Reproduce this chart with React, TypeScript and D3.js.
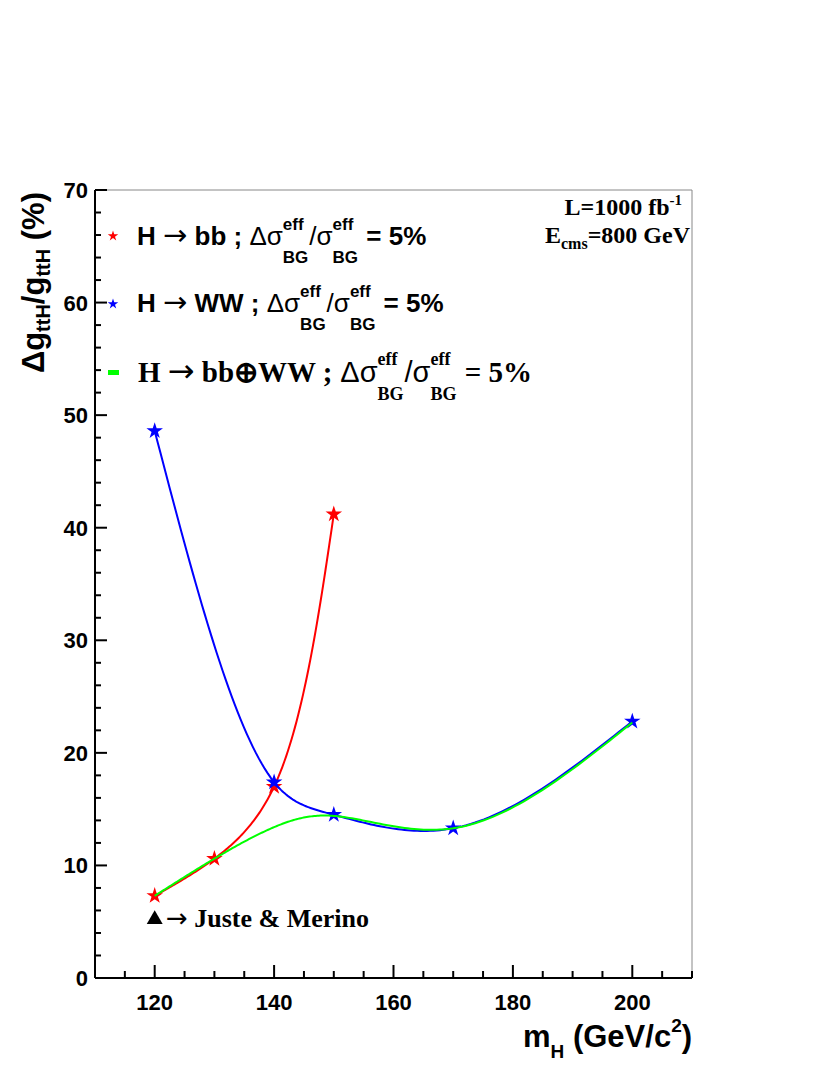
import React from 'react';
import * as d3 from 'd3';

// H -> bb, dsigma/sigma = 5%
const massBB = [120, 130, 140, 150];
const couplingBB = [7.3, 10.6, 17.0, 41.2];
// H -> WW
const massWW = [120, 140, 150, 170, 200];
const couplingWW = [48.6, 17.4, 14.5, 13.3, 22.8];
// combined bb (+) WW
const massComb = [120, 130, 140, 150, 170, 200];
const couplingComb = [7.3, 10.6, 13.4, 14.4, 13.3, 22.7];
// Juste & Merino reference point
const massJuste = [120];
const couplingJuste = [5.3];

const yTicks = [0, 10, 20, 30, 40, 50, 60, 70];
const xTicks = [120, 140, 160, 180, 200];

const SANS = '"Liberation Sans", Arial, Helvetica, sans-serif';
const SERIF = '"Liberation Serif", "Times New Roman", serif';
const SYM = '"DejaVu Sans", sans-serif';

let ctx: CanvasRenderingContext2D | null = null;
const measure = (text: string, size: number, family: string, weight: string) => {
  if (!ctx) ctx = document.createElement('canvas').getContext('2d');
  if (!ctx) return text.length * size * 0.55;
  ctx.font = `${weight} ${size}px ${family}`;
  return ctx.measureText(text).width;
};

type Piece = { t?: string; sup?: string; sub?: string; size: number; dy?: number; up?: number; down?: number; family?: string; weight?: string };

// lays out a run of text with sub/superscripts
function layout(pieces: Piece[], family: string) {
  const out: { t: string; x: number; dy: number; size: number; family: string; weight: string }[] = [];
  let x = 0;
  pieces.forEach(p => {
    const fam = p.family || family;
    const w = p.weight || 'bold';
    if (p.sup !== undefined && p.sub !== undefined) {
      out.push({ t: p.sup, x, dy: -(p.up || 0), size: p.size, family: fam, weight: w });
      out.push({ t: p.sub, x, dy: p.down || 0, size: p.size, family: fam, weight: w });
      x += Math.max(measure(p.sup, p.size, fam, w), measure(p.sub, p.size, fam, w)) + 1;
    } else {
      const t = p.t || '';
      out.push({ t, x, dy: p.dy || 0, size: p.size, family: fam, weight: w });
      x += measure(t, p.size, fam, w);
    }
  });
  return { bits: out, width: x };
}

const RichText = ({ pieces, x, y, family, anchor = 'start', rotate = false }:
  { pieces: Piece[]; x: number; y: number; family: string; anchor?: string; rotate?: boolean }) => {
  const { bits, width } = layout(pieces, family);
  const x0 = anchor === 'end' ? -width : 0;
  const tr = rotate ? `translate(${x},${y}) rotate(-90)` : `translate(${x},${y})`;
  return (
    <g transform={tr}>
      {bits.map((b, i) => (
        <text key={i} x={x0 + b.x} y={b.dy} fontFamily={b.family} fontWeight={b.weight} fontSize={b.size} fill="#000"
          style={{ whiteSpace: 'pre' }}>{b.t}</text>
      ))}
    </g>
  );
};

// parametric natural cubic spline (centripetal knots) for the smoothed graphs
function smooth(pts: [number, number][], steps = 40): [number, number][] {
  const n = pts.length;
  if (n < 3) return pts;
  const t = [0];
  for (let i = 1; i < n; i++) {
    t.push(t[i - 1] + Math.sqrt(Math.hypot(pts[i][0] - pts[i - 1][0], pts[i][1] - pts[i - 1][1])));
  }
  const second = (v: number[]) => {
    const M = new Array(n).fill(0);
    const a: number[] = [], b: number[] = [], c: number[] = [], r: number[] = [];
    for (let i = 1; i < n - 1; i++) {
      const h0 = t[i] - t[i - 1], h1 = t[i + 1] - t[i];
      a.push(h0); b.push(2 * (h0 + h1)); c.push(h1);
      r.push(6 * ((v[i + 1] - v[i]) / h1 - (v[i] - v[i - 1]) / h0));
    }
    const m = b.length;
    for (let i = 1; i < m; i++) {
      const f = a[i] / b[i - 1];
      b[i] -= f * c[i - 1];
      r[i] -= f * r[i - 1];
    }
    const sol = new Array(m).fill(0);
    for (let i = m - 1; i >= 0; i--) sol[i] = (r[i] - (i < m - 1 ? c[i] * sol[i + 1] : 0)) / b[i];
    for (let i = 0; i < m; i++) M[i + 1] = sol[i];
    return M;
  };
  const xs = pts.map(p => p[0]), ys = pts.map(p => p[1]);
  const Mx = second(xs), My = second(ys);
  const ev = (v: number[], M: number[], i: number, s: number) => {
    const h = t[i + 1] - t[i];
    const A = (t[i + 1] - s) / h, B = (s - t[i]) / h;
    return A * v[i] + B * v[i + 1] + ((A * A * A - A) * M[i] + (B * B * B - B) * M[i + 1]) * h * h / 6;
  };
  const out: [number, number][] = [];
  for (let i = 0; i < n - 1; i++) {
    for (let k = 0; k < steps; k++) {
      const s = t[i] + (t[i + 1] - t[i]) * k / steps;
      out.push([ev(xs, Mx, i, s), ev(ys, My, i, s)]);
    }
  }
  out.push(pts[n - 1]);
  return out;
}

const App = () => {
  const W = 830, H = 1075;
  const left = 95, right = 692, top = 190, bottom = 978;

  const x = d3.scaleLinear().domain([110, 210]).range([left, right]);
  const y = d3.scaleLinear().domain([0, 70]).range([bottom, top]);

  const line = d3.line<[number, number]>();
  const toScreen = (ms: number[], vs: number[]) => ms.map((m, i) => [x(m), y(vs[i])] as [number, number]);

  const bbPts = toScreen(massBB, couplingBB);
  const wwPts = toScreen(massWW, couplingWW);
  const combPts = toScreen(massComb, couplingComb);

  const star = d3.symbol(d3.symbolStar, 85)() || '';
  const smallStar = d3.symbol(d3.symbolStar, 34)() || '';
  const tri = d3.symbol(d3.symbolTriangle, 110)() || '';

  const yMinor = d3.range(0, 70.01, 2);
  const xMinor = d3.range(110, 210.01, 5);

  const legendRow = (tail: string, size: number, sub: number, up: number, down: number): Piece[] => [
    { t: 'H ', size },
    { t: '→', size: size + 3, family: SYM, weight: 'normal' },
    { t: ` ${tail} ; `, size },
    { t: 'Δσ', size, family: SANS, weight: 'normal' },
    { sup: 'eff', sub: 'BG', size: sub, up, down },
    { t: '/σ', size, family: SANS, weight: 'normal' },
    { sup: 'eff', sub: 'BG', size: sub, up, down },
    { t: ' = 5%', size },
  ];

  return (
    <svg width={W} height={H} style={{ position: 'absolute', left: 0, top: 0, background: '#fff' }}>
      <rect x={0} y={0} width={W} height={H} fill="#fff" />

      {/* frame */}
      <line x1={left} x2={right} y1={top} y2={top} stroke="#888" strokeWidth={1} />
      <line x1={right} x2={right} y1={top} y2={bottom} stroke="#888" strokeWidth={1} />
      <line x1={left} x2={left} y1={top} y2={bottom} stroke="#000" strokeWidth={2} />
      <line x1={left} x2={right} y1={bottom} y2={bottom} stroke="#000" strokeWidth={2} />

      {/* y ticks */}
      {yMinor.map(v => (
        <line key={'ym' + v} x1={left} x2={left + (v % 10 === 0 ? 12 : 6)} y1={y(v)} y2={y(v)} stroke="#000" strokeWidth={2} />
      ))}
      {yTicks.map(v => (
        <text key={'yl' + v} x={left - 7} y={y(v) + 8} textAnchor="end" fontFamily={SANS} fontWeight="bold" fontSize={22}>{v}</text>
      ))}

      {/* x ticks */}
      {xMinor.map(v => (
        <line key={'xm' + v} x1={x(v)} x2={x(v)} y1={bottom} y2={bottom - (v % 20 === 0 ? 13 : 7)} stroke="#000" strokeWidth={2} />
      ))}
      {xTicks.map(v => (
        <text key={'xl' + v} x={x(v)} y={bottom + 32} textAnchor="middle" fontFamily={SANS} fontWeight="bold" fontSize={22}>{v}</text>
      ))}

      {/* axis titles */}
      <RichText family={SANS} x={692} y={1047} anchor="end" pieces={[
        { t: 'm', size: 31 }, { t: 'H', size: 19, dy: 11 }, { t: ' (GeV/c', size: 31 }, { t: '2', size: 19, dy: -15 }, { t: ')', size: 31 },
      ]} />
      <RichText family={SANS} x={44} y={192} anchor="end" rotate pieces={[
        { t: 'Δg', size: 31 }, { t: 'ttH', size: 20, dy: 6 }, { t: '/g', size: 31 }, { t: 'ttH', size: 20, dy: 6 }, { t: ' (%)', size: 31 },
      ]} />

      {/* curves */}
      <path d={line(smooth(bbPts)) || ''} fill="none" stroke="#ff0000" strokeWidth={2} />
      {bbPts.map((p, i) => (
        <path key={'bb' + i} d={star} transform={`translate(${p[0]},${p[1]})`} fill="#ff0000" />
      ))}
      <path d={line(smooth(wwPts)) || ''} fill="none" stroke="#0000ff" strokeWidth={2} />
      {wwPts.map((p, i) => (
        <path key={'ww' + i} d={star} transform={`translate(${p[0]},${p[1]})`} fill="#0000ff" />
      ))}
      <path d={line(smooth(combPts)) || ''} fill="none" stroke="#00ff00" strokeWidth={2} />

      {massJuste.map((m, i) => (
        <path key={'j' + i} d={tri} transform={`translate(${x(m)},${y(couplingJuste[i]) + 1})`} fill="#000" />
      ))}
      <RichText family={SERIF} x={166} y={927} pieces={[
        { t: '→', size: 26, family: SYM, weight: 'normal' }, { t: ' Juste & Merino', size: 26 },
      ]} />

      {/* legend */}
      <path d={smallStar} transform="translate(113,236)" fill="#ff0000" />
      <RichText family={SANS} x={137} y={245} pieces={legendRow('bb', 26, 17, 15, 18)} />
      <path d={smallStar} transform="translate(113,304)" fill="#0000ff" />
      <RichText family={SANS} x={137} y={312} pieces={legendRow('WW', 26, 17, 15, 18)} />
      <rect x={108} y={370} width={11} height={5} fill="#00ff00" />
      <g>
        <RichText family={SERIF} x={138} y={382} pieces={legendRow('bb⊕WW', 29, 18, 17, 18)} />
      </g>

      {/* run info */}
      <RichText family={SERIF} x={682} y={215} anchor="end" pieces={[
        { t: 'L=1000 fb', size: 24 }, { t: '-1', size: 15, dy: -10 },
      ]} />
      <RichText family={SERIF} x={690} y={243} anchor="end" pieces={[
        { t: 'E', size: 24 }, { t: 'cms', size: 16, dy: 6 }, { t: '=800 GeV', size: 24 },
      ]} />
    </svg>
  );
};

export default App;
